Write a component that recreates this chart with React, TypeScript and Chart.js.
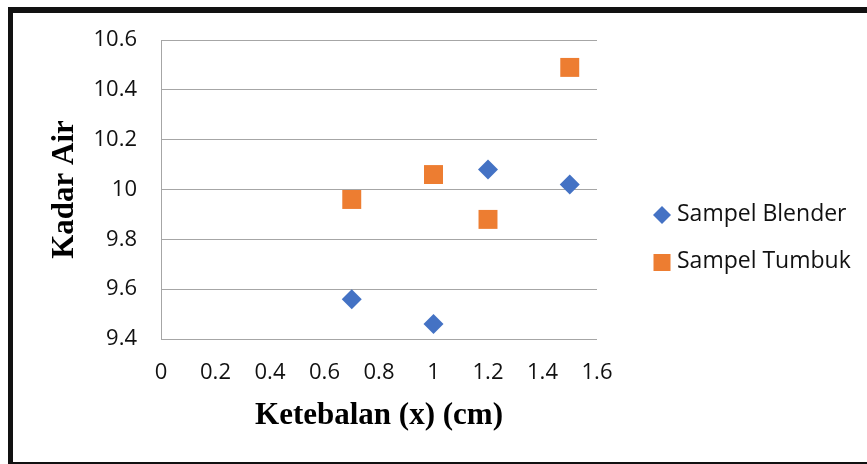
import { useEffect, useRef } from 'react';
import { Chart, registerables } from 'chart.js';

Chart.register(...registerables);

const xTicks = [0, 0.2, 0.4, 0.6, 0.8, 1, 1.2, 1.4, 1.6];
const xTickLabels = ['0', '0.2', '0.4', '0.6', '0.8', '1', '1.2', '1.4', '1.6'];
const yTicks = [9.4, 9.6, 9.8, 10, 10.2, 10.4, 10.6];
const yTickLabels = ['9.4', '9.6', '9.8', '10', '10.2', '10.4', '10.6'];
const thickness = [0.7, 1, 1.2, 1.5];
const blender = [9.56, 9.46, 10.08, 10.02];
const tumbuk = [9.96, 10.06, 9.88, 10.49];
const seriesNames = ['Sampel Blender', 'Sampel Tumbuk'];
const seriesColors = ['#4472C4', '#ED7D31'];
const xTitle = 'Ketebalan (x) (cm)';
const yTitle = 'Kadar Air';

const SANS = "'Open Sans', 'Noto Sans', sans-serif";
const SERIF = "'Times New Roman', 'Liberation Serif', serif";

const framePlugin = {
  id: 'frameAndLegend',
  afterDraw(chart: any) {
    const ctx = chart.ctx as CanvasRenderingContext2D;
    ctx.save();
    // outer frame
    ctx.fillStyle = '#111';
    ctx.fillRect(8, 7, 859, 6);
    ctx.fillRect(8, 7, 5, 457);
    ctx.fillRect(8, 462, 859, 2);
    // legend
    const items = [
      { name: seriesNames[0], color: seriesColors[0], shape: 'diamond', y: 215 },
      { name: seriesNames[1], color: seriesColors[1], shape: 'square', y: 262.5 },
    ];
    ctx.font = `23px ${SANS}`;
    ctx.textBaseline = 'middle';
    ctx.textAlign = 'left';
    for (const it of items) {
      ctx.fillStyle = it.color;
      const cx = 662;
      if (it.shape === 'diamond') {
        ctx.beginPath();
        ctx.moveTo(cx, it.y - 9);
        ctx.lineTo(cx + 9, it.y);
        ctx.lineTo(cx, it.y + 9);
        ctx.lineTo(cx - 9, it.y);
        ctx.closePath();
        ctx.fill();
      } else {
        ctx.fillRect(cx - 8.5, it.y - 8.5, 17, 17);
      }
      ctx.fillStyle = '#111';
      ctx.fillText(it.name, 677, it.y - 1);
    }
    ctx.restore();
  },
};

export default function App() {
  const ref = useRef<HTMLCanvasElement | null>(null);

  useEffect(() => {
    document.body.style.margin = '0';
    const canvas = ref.current;
    if (!canvas) return;
    const chart = new Chart(canvas, {
      type: 'scatter',
      data: {
        datasets: [
          {
            label: seriesNames[0],
            data: thickness.map((x, i) => ({ x, y: blender[i] })),
            pointStyle: 'rectRot',
            pointRadius: 10,
            pointHoverRadius: 10,
            backgroundColor: seriesColors[0],
            borderColor: seriesColors[0],
            pointBorderWidth: 0,
          },
          {
            label: seriesNames[1],
            data: thickness.map((x, i) => ({ x, y: tumbuk[i] })),
            pointStyle: 'rect',
            pointRadius: 13.4,
            pointHoverRadius: 13.4,
            backgroundColor: seriesColors[1],
            borderColor: seriesColors[1],
            pointBorderWidth: 0,
          },
        ],
      },
      options: {
        responsive: false,
        animation: false,
        devicePixelRatio: 1,
        layout: { padding: { left: 10, top: 40, right: 270, bottom: 20 } },
        plugins: {
          legend: { display: false },
          tooltip: { enabled: false },
        },
        scales: {
          x: {
            type: 'linear',
            min: 0,
            max: 1.6,
            afterBuildTicks: (scale: any) => {
              scale.ticks = xTicks.map((v) => ({ value: v }));
            },
            afterFit: (scale: any) => {
              scale.height = 105;
            },
            grid: { display: false, drawTicks: false },
            border: { display: false },
            ticks: {
              padding: 21,
              color: '#111',
              font: { family: SANS, size: 22 },
              callback: (v: any, i: number) => xTickLabels[i],
            },
            title: {
              display: true,
              text: xTitle,
              color: '#000',
              font: { family: SERIF, size: 31, weight: 'bold' },
              padding: { top: 0, bottom: 9 },
            },
          },
          y: {
            type: 'linear',
            min: 9.4,
            max: 10.6,
            afterBuildTicks: (scale: any) => {
              scale.ticks = yTicks.map((v) => ({ value: v }));
            },
            afterFit: (scale: any) => {
              scale.width = 151;
            },
            grid: { color: '#a6a6a6', lineWidth: 1, drawTicks: false },
            border: { display: true, color: '#a6a6a6', width: 1 },
            ticks: {
              padding: 24,
              color: '#111',
              font: { family: SANS, size: 22 },
              callback: (v: any, i: number) => yTickLabels[i],
            },
            title: {
              display: true,
              text: yTitle,
              color: '#000',
              font: { family: SERIF, size: 31, weight: 'bold' },
              padding: { top: 36, bottom: 0 },
            },
          },
        },
      },
      plugins: [framePlugin],
    } as any);
    return () => chart.destroy();
  }, []);

  return <canvas ref={ref} width={867} height={464} style={{ display: 'block' }} />;
}
